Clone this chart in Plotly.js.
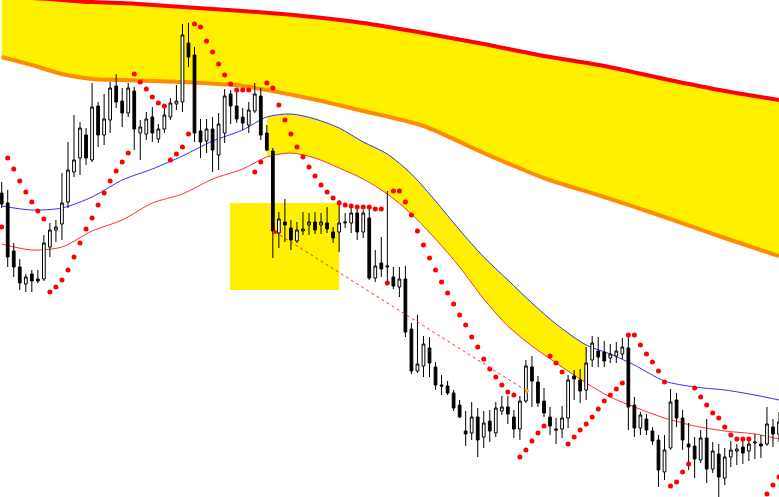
<!DOCTYPE html>
<html>
<head>
<meta charset="utf-8">
<script src="https://cdn.plot.ly/plotly-3.0.1.min.js"></script>
<style>html,body{margin:0;padding:0;background:#fff;}#chart{width:779px;height:497px;}</style>
</head>
<body>
<div id="chart"></div>
<script>
// ---- Candles (bar index 0..129), prices on an arbitrary chart scale ----
const open  = [307,297,249,233,216,226,221,221,253,270, 276,298,328,342,365,340,394,365,380,414, 399,387,409,367,366,383,361,371,383,396, 398,457,445,369,359,371,345,367,406,394, 383,375,389,404,367,349,267,278,272,259, 269,275,278,275,277,268,268,277,277,287, 268,282,222,237,233,223,213,221,171,129, 134,152,133,115,114,107,95,69,67,83, 63,79,67,89,93,83,71,99,133,118, 99,83,71,71,82,124,120,110,140,149, 148,142,144,146,152,95,72,81,69,60, 28,52,100,82,56,54,40,62,31,46, 22,43,49,53,49,57,56,56,73,66];
const high  = [318,310,257,241,226,230,230,265,277,280, 327,358,385,378,372,417,398,406,418,426, 412,417,413,380,388,393,376,394,402,415, 476,477,453,381,381,383,387,411,410,408, 392,398,417,412,375,352,288,301,280,278, 288,287,288,287,293,273,300,287,292,293, 290,292,250,263,309,233,233,234,177,185, 164,163,138,125,119,110,100,89,98,92, 89,90,98,104,104,90,104,140,144,124, 112,93,82,94,125,130,131,153,164,163, 159,156,158,162,166,103,88,86,73,65, 65,111,107,90,77,63,70,81,58,56, 52,59,56,59,62,66,65,93,81,88];
const low   = [292,233,223,210,208,208,217,219,243,258, 260,292,323,325,335,338,353,355,367,392, 373,383,350,340,360,358,357,367,380,390, 388,433,358,342,347,328,330,357,376,377, 370,367,387,360,349,242,252,258,250,257, 265,265,266,266,267,257,248,272,267,260, 262,220,218,223,215,211,203,163,126,127, 123,123,110,105,105,89,82,54,60,43, 52,58,63,85,76,62,60,97,93,93, 83,65,56,62,72,100,97,100,133,133, 133,137,137,141,70,63,65,65,55,13, 20,50,73,50,30,22,37,17,27,3, 15,33,35,36,39,41,42,54,53,58];
const close = [296,243,233,217,223,219,219,257,270,273, 297,330,340,372,342,393,365,381,412,398, 387,412,371,373,381,367,371,385,397,399, 465,443,367,358,371,350,376,404,394,381, 377,390,406,365,350,269,281,275,260,270, 271,278,270,278,271,262,277,278,287,268, 287,222,234,231,234,214,221,168,129,136, 156,137,115,114,107,92,83,66,83,60, 77,69,92,93,86,71,99,134,119,97, 87,74,70,82,120,121,109,137,157,143, 139,146,149,153,93,72,85,70,59,30, 50,98,82,60,53,41,62,31,49,23, 43,50,51,47,56,58,54,76,66,78];

// ---- Parabolic SAR dots (one per bar, null = off chart) ----
const sar = [273,342,331,319,308,298,289,281,208,213, 220,230,243,257,271,282,295,307,319,329, 338,347,426,418,411,403,397,394,340,346, 353,366,476,473,459,448,436,425,416,410, 410,410,328,338,417,412,395,380,366,353, 343,333,324,315,308,302,297,295,294,293, 293,293,291,291,217,309,309,298,285,269, 255,242,230,218,207,196,185,175,163,153, 141,131,123,115,108,105,43,50,59,67, 74,144,137,128,56,63,70,76,83,91, 99,105,111,117,165,165,155,146,138,129, 118,14,18,28,36,112,103,95,87,82, 73,65,61,61,61,null,null,6,15,23];

// ---- Moving averages (read at selected bars) ----
const maIdx  = [0,5,10,15,20,25,30,35,40,44,48,52,56,60,64,68,72,76,80,84,88,92,97,101,105,110,115,120,125,129];
const maFast = [294,290,292,303,320,331,344,359,370,383,386,381,372,358,346,326,299,270,243,220,197,176,155,146,135,119,113,110,105,100];
const maSlow = [256,250,253,269,280,297,306,321,331,343,347,342,332,321,306,286,261,233,201,174,154,137,117,103,93,82,74,69,66,61];
const maFillFrom = 44, maFillTo = 97;

// ---- Long-period band (upper red, lower orange) ----
const bandIdx   = [0,5,10,15,20,30,40,50,60,70,80,90,100,110,120,129];
const bandUpper = [503,502,500,498,497,493,489,484,477,467,456,444,434,421,409,400];
const bandLower = [443,435,426,421,420,418,414,403,389,374,347,322,303,283,262,244];

// ---- Drawn objects ----
const trendIdx = [45.35, 87.16];
const trendVal = [268, 109];
const zoneIdx = [37.9, 56.0];
const zoneVal = [210, 297];

const bars = open.map((_, i) => i);
const YEL = '#FFF000';
const spl = {shape: 'spline', smoothing: 0.8};

const a = maIdx.indexOf(maFillFrom), b = maIdx.indexOf(maFillTo) + 1;

const traces = [
  // band fill
  {x: bandIdx, y: bandLower, type: 'scatter', mode: 'lines', line: Object.assign({width: 0}, spl), hoverinfo: 'skip'},
  {x: bandIdx, y: bandUpper, type: 'scatter', mode: 'lines', line: Object.assign({width: 0}, spl), fill: 'tonexty', fillcolor: YEL, hoverinfo: 'skip'},
  // MA fill segment
  {x: maIdx.slice(a, b), y: maSlow.slice(a, b), type: 'scatter', mode: 'lines', line: Object.assign({width: 0}, spl), hoverinfo: 'skip'},
  {x: maIdx.slice(a, b), y: maFast.slice(a, b), type: 'scatter', mode: 'lines', line: Object.assign({width: 0}, spl), fill: 'tonexty', fillcolor: YEL, hoverinfo: 'skip'},
  // lines
  {x: bandIdx, y: bandLower, type: 'scatter', mode: 'lines', line: Object.assign({width: 4, color: '#FF8C00'}, spl)},
  {x: bandIdx, y: bandUpper, type: 'scatter', mode: 'lines', line: Object.assign({width: 4, color: '#FF0000'}, spl)},
  {x: maIdx, y: maFast, type: 'scatter', mode: 'lines', line: Object.assign({width: 1, color: '#3030FF'}, spl)},
  {x: maIdx, y: maSlow, type: 'scatter', mode: 'lines', line: Object.assign({width: 1, color: '#FF3030'}, spl)},
  // candles on overlay axes so they sit above fills
  {x: bars, open: open, high: high, low: low, close: close, type: 'candlestick', xaxis: 'x2', yaxis: 'y2',
   whiskerwidth: 0,
   increasing: {line: {color: '#000000', width: 1}, fillcolor: '#FFFFFF'},
   decreasing: {line: {color: '#000000', width: 1}, fillcolor: '#000000'}},
  // SAR
  {x: bars, y: sar, type: 'scatter', mode: 'markers', xaxis: 'x2', yaxis: 'y2',
   marker: {color: '#FF0000', size: 5, symbol: 'circle'}},
  // trend line
  {x: trendIdx, y: trendVal, type: 'scatter', mode: 'lines+markers', xaxis: 'x2', yaxis: 'y2',
   line: {color: '#FF3030', width: 1, dash: 'dot'},
   marker: {color: ['#FF0000', '#FFA500'], size: 4}}
];

const xr = [-0.28, 129.0], yr = [3, 500];
const ax = {range: xr, visible: false, fixedrange: true, rangeslider: {visible: false}};
const layout = {
  width: 779, height: 497, autosize: false,
  margin: {l: 0, r: 0, t: 0, b: 0, pad: 0},
  paper_bgcolor: '#FFFFFF', plot_bgcolor: '#FFFFFF',
  showlegend: false, hovermode: false,
  boxgap: 0.35,
  xaxis: Object.assign({}, ax),
  yaxis: {range: yr, visible: false, fixedrange: true},
  xaxis2: Object.assign({overlaying: 'x'}, ax),
  yaxis2: {range: yr, visible: false, fixedrange: true, overlaying: 'y'},
  shapes: [{type: 'rect', xref: 'x', yref: 'y', x0: zoneIdx[0], x1: zoneIdx[1], y0: zoneVal[0], y1: zoneVal[1],
            fillcolor: YEL, line: {width: 0}, layer: 'below'}]
};
Plotly.newPlot('chart', traces, layout, {displayModeBar: false, staticPlot: true});
</script>
</body>
</html>
